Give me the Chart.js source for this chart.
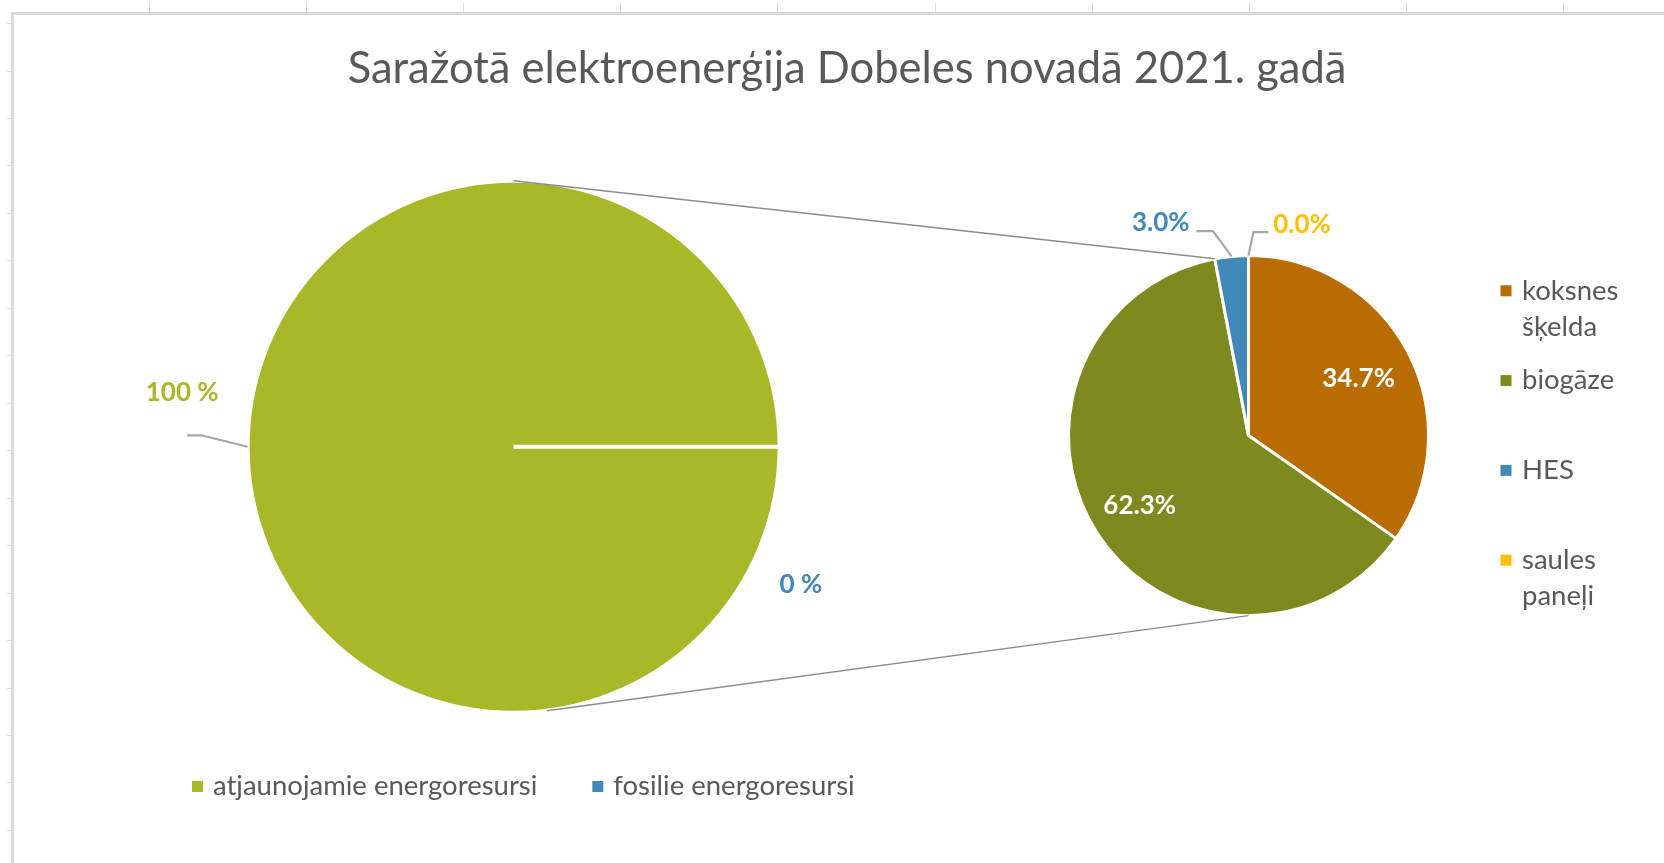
<!DOCTYPE html>
<html><head><meta charset="utf-8">
<script src="https://cdn.jsdelivr.net/npm/chart.js@4.4.1/dist/chart.umd.min.js"></script>
<style>
html,body{margin:0;padding:0;background:#fff;}
#wrap{position:relative;width:1664px;height:863px;overflow:hidden;background:#fff;}
canvas{position:absolute;left:0;top:0;}
</style></head><body>
<div id="wrap"><canvas id="main" width="1664" height="863"></canvas><canvas id="sub" width="1664" height="863"></canvas></div>
<script>
// ---- data ----
const TITLE = 'Saražotā elektroenerģija Dobeles novadā 2021. gadā';
const mainLabels = ['atjaunojamie energoresursi', 'fosilie energoresursi'];
const mainValues = [100, 0];
const subLabels = ['koksnes šķelda', 'biogāze', 'HES', 'saules paneļi'];
const subValues = [34.7, 62.3, 3.0, 0.0];

// ---- styles ----
const mainColors = ['#A9B829', '#4189B8'];
const subColors = ['#B96C00', '#7E8A1F', '#4189B8', '#FFC000'];
const TEXT = '#595959';
const FONT = 'Lato, "Open Sans", sans-serif';

function onArc(a, ang, rf){ return {x: a.x + Math.cos(ang)*a.outerRadius*rf, y: a.y + Math.sin(ang)*a.outerRadius*rf}; }
function mid(a){ return (a.startAngle + a.endAngle)/2; }

const mainLabelLayout = [
  {ax:-1.246, ay:-0.202, leader:{elbowDx:20, endDx:5, dy:42.4}},
  {ax: 1.080, ay: 0.519}
];
const subLabelLayout = [
  {inside:true, rf:0.69},
  {inside:true, rf:0.72},
  {ax:-0.327, ay:-1.182, align:'right', leader:{elbowDx:23.3, endDx:6.7, dy:8.3}},
  {ax: 0.137, ay:-1.171, align:'left', leader:{elbowDx:-19.7, endDx:-4.7, dy:7.3}}
];

const mainPlugin = {
  id:'mainDeco',
  beforeDraw(chart){
    const ctx = chart.ctx, w = chart.width, h = chart.height;
    ctx.save();
    ctx.fillStyle = '#fff'; ctx.fillRect(0,0,w,h);
    ctx.fillStyle = '#d9d9d9';
    ctx.fillRect(11, 12, w-11, 3);
    ctx.fillRect(11, 12, 3, h-12);
    ctx.fillStyle = '#dcdcdc';
    for (let x = 148.6; x < w; x += 157.2) ctx.fillRect(Math.round(x), 3, 1, 9);
    for (let y = 23.1; y < h; y += 47.46) ctx.fillRect(7, Math.round(y), 4, 1);
    ctx.restore();
  },
  afterDatasetsDraw(chart){
    const ctx = chart.ctx;
    const arcs = chart.getDatasetMeta(0).data;
    ctx.save();
    // title
    ctx.fillStyle = TEXT;
    ctx.font = '43.5px ' + FONT;
    ctx.textAlign = 'center'; ctx.textBaseline = 'alphabetic';
    ctx.fillText(TITLE, 847, 83);
    // labels
    ctx.font = 'bold 26px ' + FONT;
    ctx.textBaseline = 'middle';
    mainValues.forEach((v, i) => {
      const a = arcs[i], L = mainLabelLayout[i];
      const cx = a.x + L.ax*a.outerRadius, cy = a.y + L.ay*a.outerRadius;
      if (L.leader){
        const p = onArc(a, mid(a), 1);
        ctx.strokeStyle = '#a6a6a6'; ctx.lineWidth = 2.2; ctx.lineJoin='round';
        ctx.beginPath();
        ctx.moveTo(p.x, p.y);
        ctx.lineTo(cx + L.leader.elbowDx, cy + L.leader.dy);
        ctx.lineTo(cx + L.leader.endDx, cy + L.leader.dy);
        ctx.stroke();
      }
      ctx.fillStyle = mainColors[i];
      ctx.textAlign = 'center';
      ctx.fillText(v + ' %', cx, cy);
    });
    // bottom legend
    ctx.font = '27.5px ' + FONT;
    ctx.textAlign = 'left';
    let x = 192;
    const y = 786.5;
    mainLabels.forEach((lab, i) => {
      ctx.fillStyle = mainColors[i];
      ctx.fillRect(x, y-5.5, 11, 11);
      ctx.fillStyle = TEXT;
      ctx.fillText(lab, x + 21, y);
      x += 21 + ctx.measureText(lab).width + 55;
    });
    ctx.restore();
  }
};

const mainChart = new Chart(document.getElementById('main'), {
  type:'pie',
  data:{labels: mainLabels, datasets:[{data: mainValues, backgroundColor: mainColors, borderColor:'#ffffff', borderWidth:4}]},
  options:{
    responsive:false, animation:false, devicePixelRatio:1, events:[],
    rotation:90, radius:266,
    layout:{padding:{left:248.6, right:885.4, top:181.8, bottom:151.2}},
    plugins:{legend:{display:false}, tooltip:{enabled:false}, title:{display:false}}
  },
  plugins:[mainPlugin]
});

const subPlugin = {
  id:'subDeco',
  afterDatasetsDraw(chart){
    const ctx = chart.ctx;
    const arcs = chart.getDatasetMeta(0).data;
    const big = mainChart.getDatasetMeta(0).data[0];
    ctx.save();
    // connector lines between the two pies
    const s = arcs[0];
    const hes = arcs[2];
    const t1 = onArc(big, -Math.PI/2, 1), t2 = onArc(s, hes.startAngle, 1);
    const b1 = onArc(big, 82.8*Math.PI/180, 1), b2 = onArc(s, Math.PI/2, 1);
    ctx.strokeStyle = '#8c8c8c'; ctx.lineWidth = 1.4;
    ctx.beginPath(); ctx.moveTo(t1.x, t1.y); ctx.lineTo(t2.x, t2.y); ctx.stroke();
    ctx.beginPath(); ctx.moveTo(b1.x, b1.y); ctx.lineTo(b2.x, b2.y); ctx.stroke();
    // labels
    ctx.font = 'bold 26px ' + FONT;
    ctx.textBaseline = 'middle';
    subValues.forEach((v, i) => {
      const a = arcs[i], L = subLabelLayout[i];
      const txt = v.toFixed(1) + '%';
      if (L.inside){
        const p = onArc(a, mid(a), L.rf);
        ctx.fillStyle = '#ffffff'; ctx.textAlign = 'center';
        ctx.fillText(txt, p.x, p.y);
      } else {
        const ax = a.x + L.ax*a.outerRadius, ay = a.y + L.ay*a.outerRadius;
        const p = onArc(a, mid(a), 1);
        ctx.strokeStyle = '#a6a6a6'; ctx.lineWidth = 2.2; ctx.lineJoin='round';
        ctx.beginPath();
        ctx.moveTo(p.x, p.y);
        ctx.lineTo(ax + L.leader.elbowDx, ay + L.leader.dy);
        ctx.lineTo(ax + L.leader.endDx, ay + L.leader.dy);
        ctx.stroke();
        ctx.fillStyle = subColors[i]; ctx.textAlign = L.align;
        ctx.fillText(txt, ax, ay);
      }
    });
    // right legend
    ctx.font = '27.5px ' + FONT;
    ctx.textAlign = 'left';
    subLabels.forEach((lab, i) => {
      const y = 290.8 + i*89.8;
      ctx.fillStyle = subColors[i];
      ctx.fillRect(1500.5, y-5.5, 11, 11);
      ctx.fillStyle = TEXT;
      const words = lab.split(' ');
      const lines = []; let cur = '';
      words.forEach(wd => {
        const t = cur ? cur + ' ' + wd : wd;
        if (cur && ctx.measureText(t).width > 125){ lines.push(cur); cur = wd; } else cur = t;
      });
      lines.push(cur);
      lines.forEach((ln, k) => ctx.fillText(ln, 1522, y + k*36));
    });
    ctx.restore();
  }
};

new Chart(document.getElementById('sub'), {
  type:'pie',
  data:{labels: subLabels, datasets:[{data: subValues, backgroundColor: subColors, borderColor:'#ffffff', borderWidth:3}]},
  options:{
    responsive:false, animation:false, devicePixelRatio:1, events:[],
    rotation:0, radius:180,
    layout:{padding:{left:1069.5, right:236.5, top:256.6, bottom:248.4}},
    plugins:{legend:{display:false}, tooltip:{enabled:false}, title:{display:false}}
  },
  plugins:[subPlugin]
});
</script>
</body></html>
